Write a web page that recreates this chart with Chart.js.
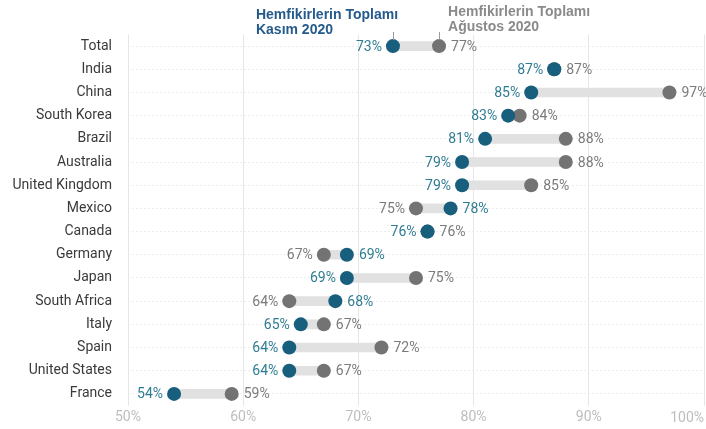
<!DOCTYPE html>
<html>
<head>
<meta charset="utf-8">
<script src="https://cdn.jsdelivr.net/npm/chart.js@4/dist/chart.umd.min.js"></script>
<style>
  html, body { margin:0; padding:0; background:#fff; }
  #wrap { width:706px; height:429px; position:relative; }
</style>
</head>
<body>
<div id="wrap"><canvas id="dumbbell"></canvas></div>
<script>
// --- data ---
const countries = ['Total','India','China','South Korea','Brazil','Australia','United Kingdom','Mexico',
  'Canada','Germany','Japan','South Africa','Italy','Spain','United States','France'];
const nov2020 = [73,87,85,83,81,79,79,78,76,69,69,68,65,64,64,54];   // Kasım 2020
const aug2020 = [77,87,97,84,88,88,85,75,76,67,75,64,67,72,67,59];   // Ağustos 2020
const xTicks = [50,60,70,80,90,100];
const seriesTitles = [['Hemfikirlerin Toplamı','Kasım 2020'], ['Hemfikirlerin Toplamı','Ağustos 2020']];

const BLUE = '#175f7c', BLUE_TXT = '#2f7d93';
const GREY = '#737373', GREY_TXT = '#7b7b7b';

const zeroPad = s => { s.paddingLeft = 0; s.paddingRight = 0; s.paddingTop = 0; s.paddingBottom = 0; };

// value labels beside each dot, plus header and the clipped 100% tick
const dumbbellLabels = {
  id:'dumbbellLabels',
  afterDatasetsDraw(chart){
    const ctx = chart.ctx;
    const blue = chart.getDatasetMeta(1).data, grey = chart.getDatasetMeta(2).data;
    ctx.save();
    ctx.font = '14px Roboto';
    ctx.textBaseline = 'middle';
    countries.forEach((c,i)=>{
      const b = blue[i], g = grey[i];
      const blueLeft = nov2020[i] <= aug2020[i];
      const left = blueLeft ? b : g, right = blueLeft ? g : b;
      ctx.textAlign = 'right';
      ctx.fillStyle = blueLeft ? BLUE_TXT : GREY_TXT;
      ctx.fillText((blueLeft ? nov2020[i] : aug2020[i]) + '%', left.x - 11, left.y + 1);
      ctx.textAlign = 'left';
      ctx.fillStyle = blueLeft ? GREY_TXT : BLUE_TXT;
      ctx.fillText((blueLeft ? aug2020[i] : nov2020[i]) + '%', right.x + 12, right.y + 1);
    });

    // header annotations tied to the Total row
    const b0 = blue[0], g0 = grey[0];
    ctx.strokeStyle = '#9a9a9a'; ctx.lineWidth = 1;
    ctx.beginPath();
    ctx.moveTo(Math.round(b0.x)+0.5, 32); ctx.lineTo(Math.round(b0.x)+0.5, b0.y - 6);
    ctx.moveTo(Math.round(g0.x)+0.5, 32); ctx.lineTo(Math.round(g0.x)+0.5, g0.y - 6);
    ctx.stroke();
    ctx.font = 'bold 14px "Liberation Sans"';
    ctx.textAlign = 'left'; ctx.textBaseline = 'alphabetic';
    ctx.fillStyle = '#245a8c';
    ctx.fillText(seriesTitles[0][0], b0.x - 137, 19);
    ctx.fillText(seriesTitles[0][1], b0.x - 137, 34);
    ctx.fillStyle = '#8a8a8a';
    ctx.fillText(seriesTitles[1][0], g0.x + 9, 16);
    ctx.fillText(seriesTitles[1][1], g0.x + 9, 31);

    // last x tick drawn flush right instead of overflowing
    const xs = chart.scales.x;
    ctx.font = '14px Roboto';
    ctx.fillStyle = '#bdbdbd';
    ctx.textAlign = 'right'; ctx.textBaseline = 'middle';
    const last = xTicks[xTicks.length-1];
    ctx.fillText(last + '%', Math.min(xs.getPixelForValue(last) + 16, chart.width - 2), 418);
    ctx.restore();
  }
};

new Chart(document.getElementById('dumbbell'), {
  type:'bar',
  data:{
    labels: countries,
    datasets:[
      { label:'range', data: countries.map((c,i)=>[Math.min(nov2020[i],aug2020[i]), Math.max(nov2020[i],aug2020[i])]),
        backgroundColor:'#e1e1e1', barThickness:9, order:3 },
      { type:'line', label:seriesTitles[0].join(' '), data: nov2020, showLine:false,
        pointRadius:7, pointHoverRadius:7, pointBackgroundColor:BLUE, pointBorderWidth:0, order:1 },
      { type:'line', label:seriesTitles[1].join(' '), data: aug2020, showLine:false,
        pointRadius:7, pointHoverRadius:7, pointBackgroundColor:GREY, pointBorderWidth:0, order:2 }
    ]
  },
  options:{
    indexAxis:'y',
    responsive:true, maintainAspectRatio:false, animation:false,
    layout:{ autoPadding:false, padding:{ top:34.5, right:2, left:0, bottom:0 } },
    plugins:{ legend:{display:false}, tooltip:{enabled:false} },
    scales:{
      x:{
        min:50, max:100,
        afterBuildTicks(s){ s.ticks = xTicks.map(v=>({value:v})); },
        afterFit(s){ zeroPad(s); s.height = 23.5; },
        ticks:{ color:'#bdbdbd', font:{family:'Roboto', size:14}, padding:4, maxRotation:0,
          callback:v => v === xTicks[xTicks.length-1] ? '' : v + '%' },
        grid:{ color:'#e6e6e6', drawTicks:false },
        border:{ display:false }
      },
      y:{
        afterFit(s){ zeroPad(s); s.width = 128; },
        ticks:{ color:'#3a3a3a', font:{family:'Roboto', size:14}, padding:16 },
        grid:{ color:'#ededed', drawTicks:false, offset:false },
        border:{ display:false, dash:[2,2] }
      }
    }
  },
  plugins:[dumbbellLabels]
});
</script>
</body>
</html>
